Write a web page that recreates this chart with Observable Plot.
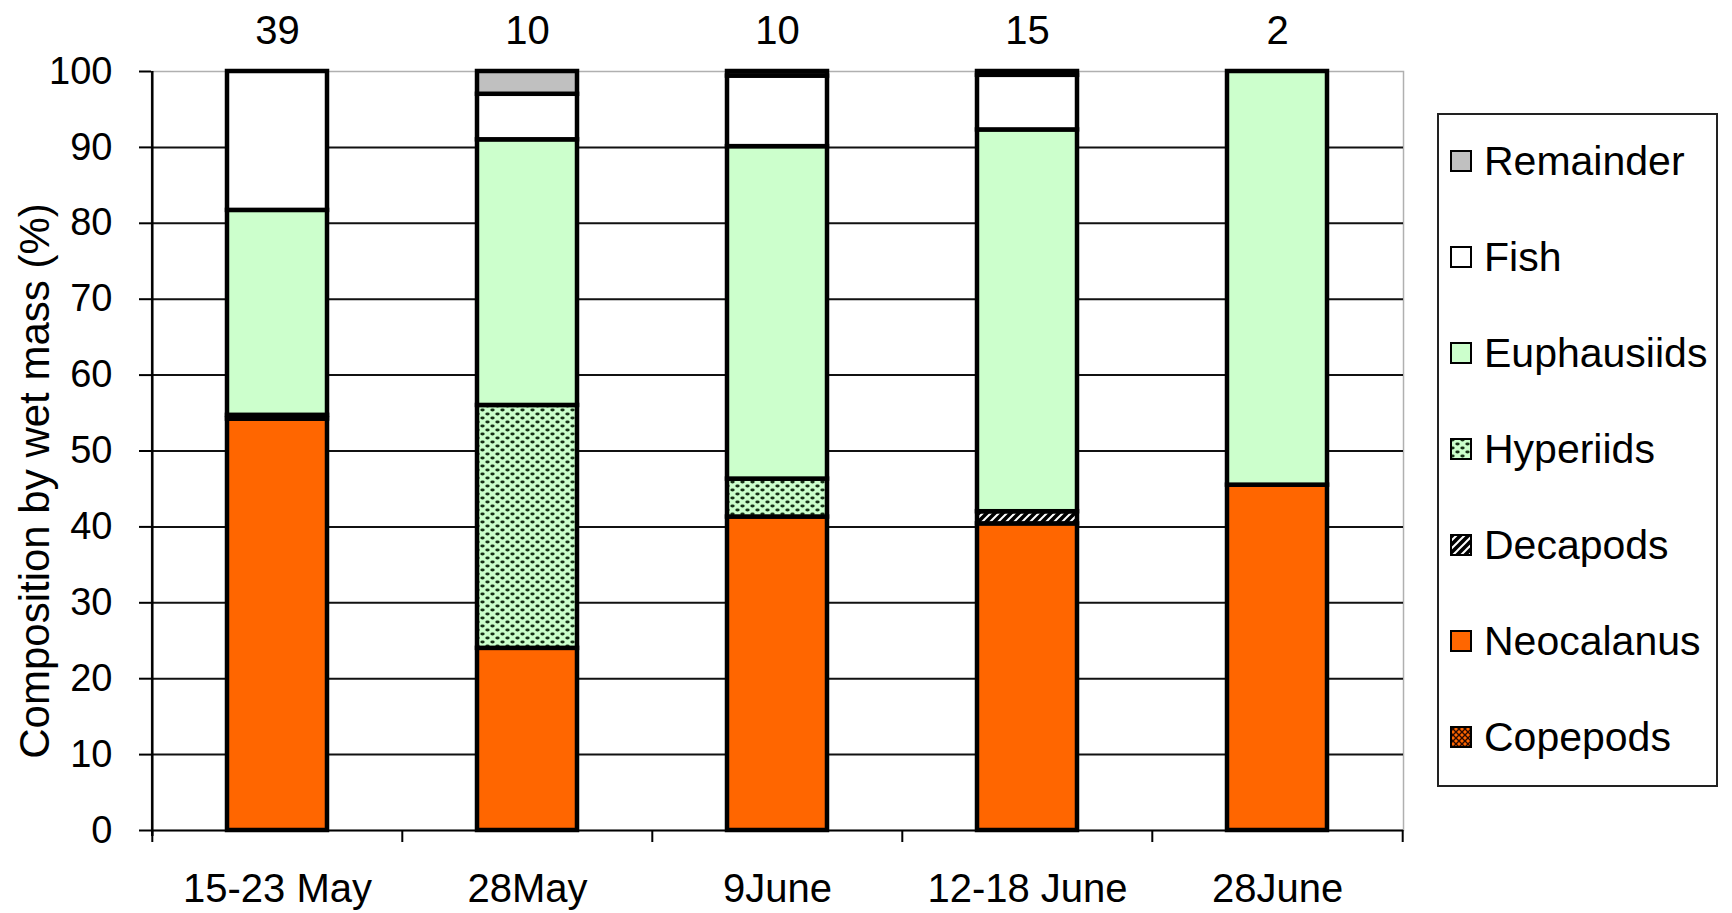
<!DOCTYPE html>
<html>
<head>
<meta charset="utf-8">
<script src="https://cdn.jsdelivr.net/npm/d3@7"></script>
<script src="https://cdn.jsdelivr.net/npm/@observablehq/plot@0.6"></script>
<style>
  html, body { margin: 0; padding: 0; background: #fff; }
  #wrap { position: relative; width: 1732px; height: 913px; font-family: "Liberation Sans", Arial, sans-serif; }
  #chart { position: absolute; left: 0; top: 0; }
  #legend { position: absolute; left: 1437px; top: 113px; width: 277px; height: 670px; border: 2px solid #222; box-sizing: content-box; }
  .item { position: absolute; left: 11px; height: 44px; display: flex; align-items: center; font-size: 41px; color: #000; }
  .item svg { margin-right: 12px; }
</style>
</head>
<body>
<div id="wrap">
  <div id="chart"></div>
  <div id="legend"></div>
</div>
<script>
// ---- data ----
const dates = ["15-23 May", "28May", "9June", "12-18 June", "28June"];
const sampleN = [39, 10, 10, 15, 2];
const species = ["Copepods", "Neocalanus", "Decapods", "Hyperiids", "Euphausiids", "Fish", "Remainder"];
const copepods    = [0, 0, 0, 0, 0];
const neocalanus  = [54.2, 24, 41.3, 40.4, 45.5];
const decapods    = [0.5, 0, 0, 1.6, 0];
const hyperiids   = [0, 32, 5, 0, 0];
const euphausiids = [27, 35, 43.8, 50.3, 54.5];
const fish        = [18.3, 6, 9.3, 7.2, 0];
const remainder   = [0, 3, 0.6, 0.5, 0];
const yTicks = [0, 10, 20, 30, 40, 50, 60, 70, 80, 90, 100];
const yLabel = "Composition by wet mass (%)";

const seriesValues = {
  Copepods: copepods, Neocalanus: neocalanus, Decapods: decapods, Hyperiids: hyperiids,
  Euphausiids: euphausiids, Fish: fish, Remainder: remainder
};
const fills = {
  Copepods: "url(#pat-cop)", Neocalanus: "#ff6600", Decapods: "url(#pat-dec)",
  Hyperiids: "url(#pat-hyp)", Euphausiids: "#ccffcc", Fish: "#ffffff", Remainder: "#c0c0c0"
};

const rows = [];
dates.forEach((d, i) => {
  species.forEach(s => {
    const v = seriesValues[s][i];
    if (v > 0) rows.push({date: d, species: s, value: v});
  });
});
const labels = dates.map((d, i) => ({date: d, n: sampleN[i]}));

// ---- layout ----
const W = 1420, H = 913, ML = 151, MR = 17, MT = 71, MB = 83;
const step = (W - ML - MR) / dates.length;
const FONT = "'Liberation Sans', Arial, sans-serif";

const chart = Plot.plot({
  width: W, height: H,
  marginLeft: ML, marginRight: MR, marginTop: MT, marginBottom: MB,
  style: {fontFamily: FONT, color: "#000", background: "transparent", overflow: "visible"},
  x: {domain: dates, paddingInner: 0.6, paddingOuter: 0.3, label: null},
  y: {domain: [0, 100], label: null},
  color: {domain: species, range: species.map(s => fills[s])},
  marks: [
    Plot.frame({stroke: "#b0b0b0", strokeWidth: 1.5}),
    Plot.gridY(yTicks.filter(t => t > 0 && t < 100), {stroke: "#111", strokeOpacity: 1, strokeWidth: 2}),
    Plot.barY(rows, Plot.stackY({
      x: "date", y: "value", fill: "species",
      order: species, stroke: "#000", strokeWidth: 4.5
    })),
    Plot.ruleY([0], {stroke: "#000", strokeWidth: 2}),
    Plot.ruleX([dates[0]], {x: d => d, dx: -step / 2, stroke: "#000", strokeWidth: 2.5, insetBottom: -6}),
    Plot.axisY(yTicks, {tickSize: 12, tickPadding: 27, fontSize: 38, stroke: "#000", strokeWidth: 2, label: null}),
    Plot.axisX({tickSize: 12, tickFormat: () => "", dx: -step / 2, stroke: "#000", strokeWidth: 2, label: null}),
    Plot.axisX([dates[dates.length - 1]], {tickSize: 12, tickFormat: () => "", dx: step / 2, stroke: "#000", strokeWidth: 2, label: null}),
    Plot.axisX({tickSize: 0, tickPadding: 43, fontSize: 40, label: null}),
    Plot.text(labels, {x: "date", text: "n", frameAnchor: "top", dy: -40, lineAnchor: "middle", fontSize: 40}),
    Plot.text([yLabel], {frameAnchor: "left", dx: -116, dy: 30, rotate: -90, textAnchor: "middle", lineAnchor: "middle", fontSize: 42})
  ]
});

// pattern definitions
const defs = `
<defs>
  <pattern id="pat-hyp" patternUnits="userSpaceOnUse" width="10" height="8">
    <rect width="10" height="8" fill="#ccffcc"/>
    <ellipse cx="2.5" cy="2" rx="2.2" ry="1.4" fill="#163016"/>
    <ellipse cx="7.5" cy="6" rx="2.2" ry="1.4" fill="#163016"/>
  </pattern>
  <pattern id="pat-dec" patternUnits="userSpaceOnUse" width="8" height="8">
    <rect width="8" height="8" fill="#000"/>
    <path d="M-1,9 L9,-1 M-1,1 L1,-1 M7,9 L9,7" stroke="#fff" stroke-width="2"/>
  </pattern>
  <pattern id="pat-cop" patternUnits="userSpaceOnUse" width="6" height="6">
    <rect width="6" height="6" fill="#ff6600"/>
    <path d="M0,0 L3,3 L0,6 M6,0 L3,3 L6,6" stroke="#2a0a00" stroke-width="1.4" fill="none"/>
  </pattern>
</defs>`;
chart.insertAdjacentHTML("afterbegin", defs);
document.getElementById("chart").appendChild(chart);

// legend
const legend = document.getElementById("legend");
const legendOrder = species.slice().reverse();
legendOrder.forEach((s, i) => {
  const item = document.createElement("div");
  item.className = "item";
  item.style.top = (24 + i * 96) + "px";
  item.innerHTML = `<svg width="22" height="22"><rect x="1" y="1" width="20" height="20" fill="${fills[s]}" stroke="#000" stroke-width="2"/></svg><span>${s}</span>`;
  legend.appendChild(item);
});
</script>
</body>
</html>
